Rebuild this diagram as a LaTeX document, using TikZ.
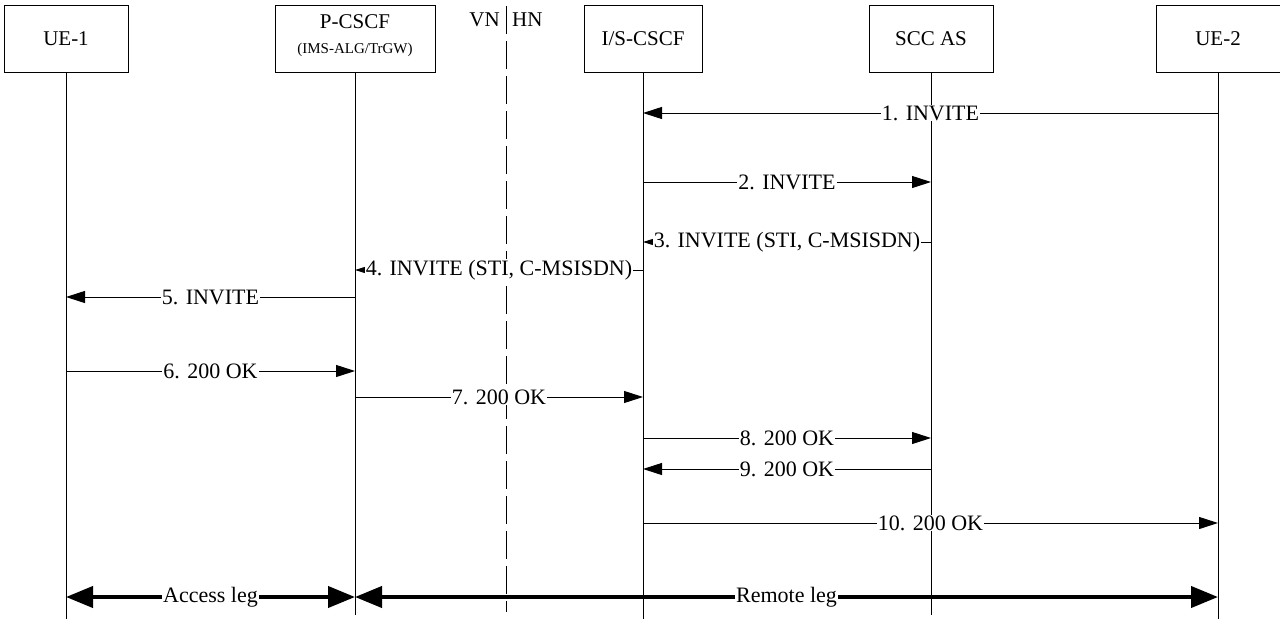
\documentclass[tikz,border=0pt]{standalone}
\usepackage{fontspec}
\setmainfont{Liberation Serif}
\usetikzlibrary{arrows.meta}
\begin{document}
\begin{tikzpicture}[x=1pt,y=-1pt,
  actor/.style={draw,line width=1pt,minimum width=124pt,minimum height=67pt,inner sep=0pt,font=\fontsize{21}{23}\selectfont},
  life/.style={line width=1pt},
  msg/.style={line width=1pt,-{Triangle[length=19pt,width=12pt]}},
  msgs/.style={line width=1pt,-{Triangle[length=10pt,width=6pt]}},
  leg/.style={line width=4pt,{Triangle[length=27pt,width=21pt]}-{Triangle[length=27pt,width=21pt]}},
  lbl/.style={fill=white,inner sep=1pt,font=\fontsize{22}{24}\selectfont},
  net/.style={font=\fontsize{21}{23}\selectfont,inner sep=1pt}]
\useasboundingbox (0,0) rectangle (1280,621);
% actors
\node[actor] (ue1) at (66,38.5) {UE-1};
\node[actor,minimum width=160pt] (pcscf) at (355,38.5) {};
\node[font=\fontsize{21}{23}\selectfont,inner sep=0pt] (pname) at (355,22) {P-CSCF};
\node[font=\fontsize{15}{17}\selectfont,inner sep=0pt] (psub) at (355,50) {(IMS-ALG/TrGW)};
\node[actor,minimum width=118pt] (is) at (643,38.5) {I/S-CSCF};
\node[actor] (scc) at (931,38.5) {SCC AS};
\node[actor] (ue2) at (1218,38.5) {UE-2};
% VN/HN
\coordinate (dtop) at (506,6);
\coordinate (dbot) at (506,612);
\node[net,anchor=east] (vn) at (501,20) {VN};
\node[net,anchor=west] (hn) at (511,20) {HN};
\draw[line width=1pt,dash pattern=on 28pt off 7pt] (dtop) -- (dbot);
% lifelines
\coordinate (end) at (0,619);
\coordinate (end2) at (0,615);
\draw[life] (ue1.south) -- (ue1.south |- end);
\draw[life] (pcscf.south) -- (pcscf.south |- end2);
\draw[life] (is.south) -- (is.south |- end);
\draw[life] (scc.south) -- (scc.south |- end2);
\draw[life] (ue2.south) -- (ue2.south |- end);
% message rows
\coordinate (r1) at (0,113);
\coordinate (r2) at (0,182);
\coordinate (r3) at (0,242);
\coordinate (r4) at (0,270);
\coordinate (r5) at (0,297);
\coordinate (r6) at (0,371);
\coordinate (r7) at (0,397);
\coordinate (r8) at (0,438);
\coordinate (r9) at (0,469);
\coordinate (r10) at (0,523);
\coordinate (r11) at (0,597);
% messages
\draw[msg] (ue2 |- r1) -- node[lbl] {1. INVITE} (is |- r1);
\draw[msg] (is |- r2) -- node[lbl] {2. INVITE} (scc |- r2);
\draw[msgs] (scc |- r3) -- node[lbl] {3. INVITE (STI, C-MSISDN)} (is |- r3);
\draw[msgs] (is |- r4) -- node[lbl] {4. INVITE (STI, C-MSISDN)} (pcscf |- r4);
\draw[msg] (pcscf |- r5) -- node[lbl] {5. INVITE} (ue1 |- r5);
\draw[msg] (ue1 |- r6) -- node[lbl] {6. 200 OK} (pcscf |- r6);
\draw[msg] (pcscf |- r7) -- node[lbl] {7. 200 OK} (is |- r7);
\draw[msg] (is |- r8) -- node[lbl] {8. 200 OK} (scc |- r8);
\draw[msg] (scc |- r9) -- node[lbl] {9. 200 OK} (is |- r9);
\draw[msg] (is |- r10) -- node[lbl] {10. 200 OK} (ue2 |- r10);
\draw[leg] (ue1 |- r11) -- node[lbl] {Access leg} (pcscf |- r11);
\draw[leg] (pcscf |- r11) -- node[lbl] {Remote leg} (ue2 |- r11);
\end{tikzpicture}
\end{document}
